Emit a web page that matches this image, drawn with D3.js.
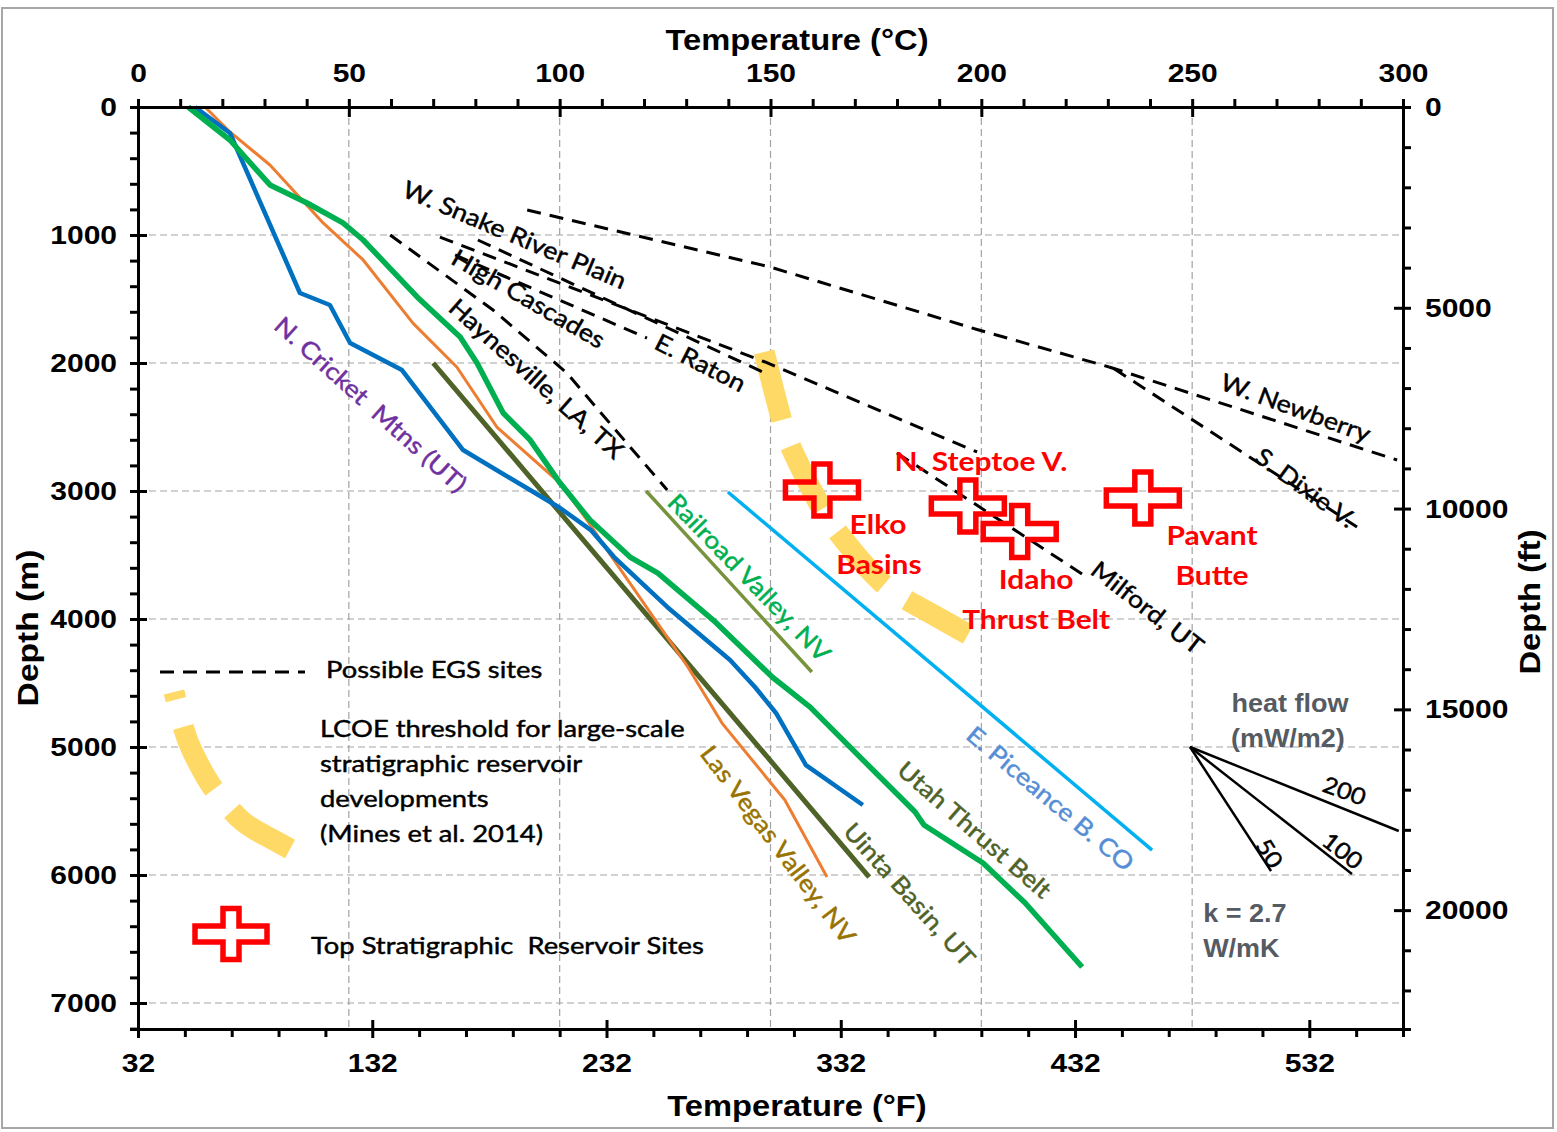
<!DOCTYPE html>
<html>
<head>
<meta charset="utf-8">
<script src="https://cdn.jsdelivr.net/npm/d3@7"></script>
<style>
  body { margin: 0; background: #fff; }
  svg { display: block; }
  text { white-space: pre; }
</style>
</head>
<body>
<svg id="chart" width="1557" height="1132"></svg>
<script>
// temperature profiles, [deg C, depth m]
const cricketMtns = [[13.5,0],[21.8,203],[38.4,1453],[45.5,1547],[50.3,1844],[62.6,2055],[77.1,2680],[91.8,2969],[100.1,3133],[107.4,3305],[112.9,3516],[125.5,3906],[140.4,4320],[146.3,4531],[151.3,4734],[158.4,5141],[171.9,5453]];
const utahThrust = [[11.9,0],[21.8,258],[31.3,609],[40.1,750],[48.6,906],[53.4,1039],[66.2,1484],[76.4,1797],[80.4,2000],[86.6,2391],[93.0,2602],[100.1,2938],[107.2,3227],[116.7,3516],[123.3,3641],[136.4,4008],[150.4,4453],[159.4,4688],[174.3,5180],[184.3,5508],[186.4,5609],[200.4,5906],[210.4,6219],[223.9,6719]];
const lasVegas = [[15.9,0],[21.8,195],[31.3,453],[43.9,906],[53.4,1195],[65.2,1688],[75.6,2031],[85.1,2500],[100.1,2938],[106.5,3227],[112.4,3516],[130.4,4375],[138.5,4813],[153.4,5414],[163.4,6016]];
const uintaBasin = [[70,2000],[173.4,6016]];
const railroadValley = [[120.5,3000],[159.8,4414]];
const piceance = [[139.9,3008],[240.5,5805]];

// possible EGS sites (dashed)
const snakeRiver = [[92.3,805],[149.9,1250],[199.4,1742],[230.3,2031]];
const newberry = [[230.3,2031],[298.6,2758]];
const dixie = [[231.5,2045],[289.1,3281]];
const highCascades = [[71.6,1016],[148.7,1992],[199,2695]];
const cascades2 = [[80.6,1039],[149.2,2086]];
const eRaton = [[75.2,1156],[120.7,1805]];
const haynesville = [[59.8,1000],[84.2,1586],[101.7,2078],[116.7,2656],[125.5,2992]];
const milford = [[180,2703],[225,3672]];

// LCOE threshold curve
const lcoeT = [148.5,152.7,154.9,162.2,166.0,176.4,184.5,198.0];
const lcoeZ = [1914,2469,2680,3156,3328,3750,3891,4141];

// top stratigraphic reservoir sites
const siteT = [162.2,196.8,209.1,238.3];
const siteZ = [2992,3117,3316,3055];

// heat flow fan (k = 2.7 W/mK)
const fanOrigin = [249.5,5000];
const fanEnds = [[299,5656],[287.9,5992],[268.7,5969]];
const fanLabels = ["200","100","50"];

// axis ticks
const ticksC = [0,50,100,150,200,250,300];
const ticksM = [0,1000,2000,3000,4000,5000,6000,7000];
const ticksF = [32,132,232,332,432,532];
const ticksFt = [0,5000,10000,15000,20000];

const svg = d3.select("#chart");

const x = d3.scaleLinear().domain([0,300]).range([138,1403]);
const y = d3.scaleLinear().domain([0,7203]).range([107,1029]);
const xF = d3.scaleLinear().domain([32,572]).range([138,1403]);
const yFt = d3.scaleLinear().domain([0,22960]).range([107,1029]);

const ARIAL = "'Liberation Sans', Arial, sans-serif";
const CALIBRI = "Lato, 'Open Sans', sans-serif";

function txt(g, px, py, s, o) {
  const t = g.append("text")
    .attr("transform", `translate(${px},${py}) rotate(${o.rot || 0}) scale(${o.sx || 1},1)`)
    .attr("text-anchor", o.anchor || "middle")
    .attr("dominant-baseline", "central")
    .style("font-family", o.font || CALIBRI)
    .style("font-size", (o.size || 24) + "px")
    .style("font-weight", o.weight || "normal")
    .attr("fill", o.color || "#000")
    .text(s);
  // calibri-ish text looks a bit heavier than Lato regular
  if (!o.font && !o.weight) t.attr("stroke", o.color || "#000").attr("stroke-width", 0.45);
  return t;
}

// outer frame
svg.append("rect")
  .attr("x", 2).attr("y", 8).attr("width", 1551).attr("height", 1120)
  .attr("fill", "none").attr("stroke", "#a6a6a6").attr("stroke-width", 2);

// grid
const grid = svg.append("g").attr("stroke", "#a3a3a3").attr("stroke-width", 1.2).attr("stroke-dasharray", "7,4");
grid.selectAll(".gx").data(ticksC.slice(1, -1)).enter().append("line")
  .attr("x1", d => x(d)).attr("x2", d => x(d)).attr("y1", y(0)).attr("y2", y.range()[1]);
grid.selectAll(".gy").data(ticksM.slice(1)).enter().append("line")
  .attr("y1", d => y(d)).attr("y2", d => y(d)).attr("x1", x(0)).attr("x2", x(300));

const line = d3.line().x(d => x(d[0])).y(d => y(d[1]));

// LCOE threshold band
const lcoe = lcoeT.map((t, i) => [x(t), y(lcoeZ[i])]);
const bandLine = d3.line().curve(d3.curveBasis);
svg.append("path")
  .attr("d", bandLine(lcoe))
  .attr("fill", "none").attr("stroke", "#FFD966").attr("stroke-width", 21)
  .attr("stroke-dasharray", "70,28");

// EGS dashed lines
const egs = [snakeRiver, newberry, dixie, highCascades, cascades2, eRaton, haynesville, milford];
svg.append("g").selectAll("path").data(egs).enter().append("path")
  .attr("d", line)
  .attr("fill", "none").attr("stroke", "#000").attr("stroke-width", 3)
  .attr("stroke-dasharray", "14,9");

// profiles
const profiles = [
  {d: uintaBasin, c: "#4F6228", w: 5},
  {d: railroadValley, c: "#77933C", w: 3.5},
  {d: piceance, c: "#00B0F0", w: 3.5},
  {d: lasVegas, c: "#ED7D31", w: 3},
  {d: cricketMtns, c: "#0070C0", w: 4.5},
  {d: utahThrust, c: "#00B050", w: 5.5}
];
svg.append("g").selectAll("path").data(profiles).enter().append("path")
  .attr("d", p => line(p.d))
  .attr("fill", "none").attr("stroke", p => p.c).attr("stroke-width", p => p.w)
  .attr("stroke-linejoin", "round");

// heat flow fan
svg.append("g").selectAll("line").data(fanEnds).enter().append("line")
  .attr("x1", x(fanOrigin[0])).attr("y1", y(fanOrigin[1]))
  .attr("x2", d => x(d[0])).attr("y2", d => y(d[1]))
  .attr("stroke", "#000").attr("stroke-width", 2.5);

// crosses
function crossPath(w, h, t) {
  const a = w / 2, b = h / 2, c = t / 2;
  return `M${-c},${-b}H${c}V${-c}H${a}V${c}H${c}V${b}H${-c}V${c}H${-a}V${-c}H${-c}Z`;
}
svg.append("g").selectAll("path").data(siteT).enter().append("path")
  .attr("transform", (t, i) => `translate(${x(t)},${y(siteZ[i])})`)
  .attr("d", crossPath(73, 52, 16))
  .attr("fill", "none").attr("stroke", "#FF0000").attr("stroke-width", 5.5);

// axes
const axes = svg.append("g");
function styleAxis(g) {
  g.select(".domain").attr("stroke", "#000").attr("stroke-width", 3);
  g.selectAll(".tick line").attr("stroke", "#000").attr("stroke-width", 3);
  g.selectAll("text").attr("fill", "#000")
    .style("font-family", ARIAL).style("font-size", "25px").style("font-weight", "bold")
    .attr("x", 0).attr("y", 0).attr("dy", null).attr("dominant-baseline", "central");
}
const minorC = d3.range(0, 301, 10).filter(v => v % 50);
const minorM = d3.range(0, 7201, 200).filter(v => v % 1000);
const minorF = d3.range(52, 572, 20).filter(v => (v - 32) % 100);
const minorFt = d3.range(1000, 23000, 1000).filter(v => v % 5000);

// top
axes.append("g").attr("transform", `translate(0,${y(0)})`)
  .call(d3.axisTop(x).tickValues(minorC).tickSize(8).tickFormat(""))
  .call(styleAxis);
axes.append("g").attr("transform", `translate(0,${y(0)})`)
  .call(d3.axisTop(x).tickValues(ticksC).tickSizeOuter(0).tickFormat(d3.format("d")))
  .call(styleAxis)
  .call(g => g.selectAll(".tick line").attr("y1", 10).attr("y2", -8))
  .call(g => g.selectAll("text").attr("text-anchor", "middle").attr("transform", "translate(0,-34) scale(1.2,1)"));
// left
axes.append("g").attr("transform", `translate(${x(0)},0)`)
  .call(d3.axisLeft(y).tickValues(minorM).tickSize(8).tickFormat(""))
  .call(styleAxis);
axes.append("g").attr("transform", `translate(${x(0)},0)`)
  .call(d3.axisLeft(y).tickValues(ticksM).tickSizeOuter(0).tickFormat(d3.format("d")))
  .call(styleAxis)
  .call(g => g.selectAll(".tick line").attr("x1", 9).attr("x2", -8))
  .call(g => g.selectAll("text").attr("text-anchor", "end").attr("transform", "translate(-21,0) scale(1.2,1)"));
// bottom
axes.append("g").attr("transform", `translate(0,${y.range()[1]})`)
  .call(d3.axisBottom(xF).tickValues(minorF).tickSize(8).tickFormat(""))
  .call(styleAxis);
axes.append("g").attr("transform", `translate(0,${y.range()[1]})`)
  .call(d3.axisBottom(xF).tickValues(ticksF).tickSizeOuter(0).tickFormat(d3.format("d")))
  .call(styleAxis)
  .call(g => g.selectAll(".tick line").attr("y1", -9).attr("y2", 9))
  .call(g => g.selectAll("text").attr("text-anchor", "middle").attr("transform", "translate(0,34) scale(1.2,1)"));
// right
axes.append("g").attr("transform", `translate(${x(300)},0)`)
  .call(d3.axisRight(yFt).tickValues(minorFt).tickSize(8).tickFormat(""))
  .call(styleAxis);
axes.append("g").attr("transform", `translate(${x(300)},0)`)
  .call(d3.axisRight(yFt).tickValues(ticksFt).tickSizeOuter(0).tickFormat(d3.format("d")))
  .call(styleAxis)
  .call(g => g.selectAll(".tick line").attr("x1", -9).attr("x2", 8))
  .call(g => g.selectAll("text").attr("text-anchor", "start").attr("transform", "translate(22,0) scale(1.2,1)"));

// axis titles
txt(svg, 797, 40, "Temperature (°C)", {font: ARIAL, size: 30, weight: "bold", sx: 1.09});
txt(svg, 797, 1106, "Temperature (°F)", {font: ARIAL, size: 30, weight: "bold", sx: 1.09});
txt(svg, 28, 628, "Depth (m)", {font: ARIAL, size: 30, weight: "bold", sx: 1.12, rot: -90});
txt(svg, 1530, 602, "Depth (ft)", {font: ARIAL, size: 30, weight: "bold", sx: 1.09, rot: -90});

// line labels, [deg C, depth m, angle]
const labels = [
  ["W. Snake River Plain", 89.4, 992, 23, "#000"],
  ["High Cascades", 92.7, 1492, 30, "#000"],
  ["Haynesville, LA, TX", 94.6, 2117, 42, "#000"],
  ["E. Raton", 133.5, 1992, 27, "#000"],
  ["N. Cricket  Mtns (UT)", 55.3, 2320, 42, "#7030A0"],
  ["Railroad Valley, NV", 145.1, 3672, 46, "#00B050"],
  ["E. Piceance B. CO", 216.5, 5398, 40, "#558ED5"],
  ["Utah Thrust Belt", 198.5, 5641, 41, "#4F6228"],
  ["Uinta Basin, UT", 183.1, 6148, 48, "#4F6228"],
  ["Las Vegas Valley, NV", 152, 5758, 53, "#997300"],
  ["Milford, UT", 239.5, 3906, 38, "#000"],
  ["W. Newberry", 274.6, 2344, 20, "#000"],
  ["S. Dixie V.", 277, 2969, 36, "#000"]
];
const lab = svg.append("g");
labels.forEach(l => txt(lab, x(l[1]), y(l[2]), l[0], {size: 24, sx: 1.12, rot: l[3], color: l[4]}));

// site labels
const siteLabels = [
  ["N. Steptoe V.", 199.9, 2766],
  ["Elko", 175.5, 3258], ["Basins", 175.7, 3570],
  ["Idaho", 213, 3688], ["Thrust Belt", 213, 4000],
  ["Pavant", 254.7, 3344], ["Butte", 254.7, 3656]
];
siteLabels.forEach(l => txt(lab, x(l[1]), y(l[2]), l[0], {size: 26, sx: 1.15, weight: "bold", color: "#FF0000"}));

// heat flow annotations
const fanPos = [[286.2,5336,20],[285.8,5805,38],[268.5,5828,58]];
fanLabels.forEach((s, i) => txt(lab, x(fanPos[i][0]), y(fanPos[i][1]), s, {size: 23, sx: 1.1, rot: fanPos[i][2]}));
const gray = "#555b63";
txt(lab, x(273.2), y(4656), "heat flow", {font: ARIAL, size: 25, weight: "bold", sx: 1.08, color: gray});
txt(lab, x(272.7), y(4930), "(mW/m2)", {font: ARIAL, size: 25, weight: "bold", sx: 1.08, color: gray});
txt(lab, x(252.6), y(6297), "k = 2.7", {font: ARIAL, size: 25, weight: "bold", sx: 1.08, color: gray, anchor: "start"});
txt(lab, x(252.6), y(6570), "W/mK", {font: ARIAL, size: 25, weight: "bold", sx: 1.08, color: gray, anchor: "start"});

// legend
const leg = svg.append("g");
leg.append("line").attr("x1", 160).attr("x2", 305).attr("y1", 672).attr("y2", 672)
  .attr("stroke", "#000").attr("stroke-width", 3).attr("stroke-dasharray", "14,9");
txt(leg, 326, 669, "Possible EGS sites", {size: 24, sx: 1.14, anchor: "start"});

const l0 = lcoe[0];
const legArc = lcoe.map(p => [(p[0] - l0[0]) * 0.58 + 174, (p[1] - l0[1]) * 0.56 + 692]);
leg.append("path").attr("d", bandLine(legArc))
  .attr("fill", "none").attr("stroke", "#FFD966").attr("stroke-width", 21)
  .attr("stroke-dasharray", "70,28").attr("stroke-dashoffset", 62);
["LCOE threshold for large-scale", "stratigraphic reservoir", "developments", "(Mines et al. 2014)"]
  .forEach((s, i) => txt(leg, 320, 728 + i * 35, s, {size: 24, sx: 1.14, anchor: "start"}));

leg.append("path").attr("transform", "translate(231,934)").attr("d", crossPath(72, 51, 16))
  .attr("fill", "none").attr("stroke", "#FF0000").attr("stroke-width", 5.5);
txt(leg, 311, 945, "Top Stratigraphic  Reservoir Sites", {size: 24, sx: 1.14, anchor: "start"});
</script>
</body>
</html>
